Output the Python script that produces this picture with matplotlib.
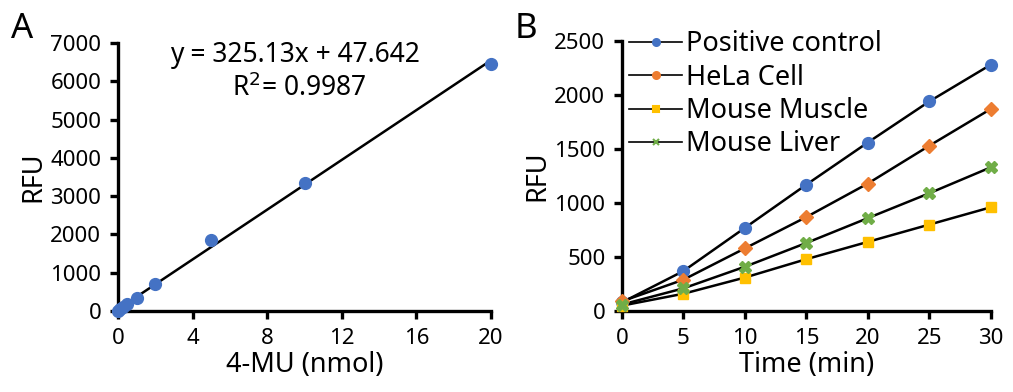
import numpy as np
import matplotlib
matplotlib.use('Agg')
import matplotlib.pyplot as plt
from matplotlib.lines import Line2D

plt.rcParams['font.family'] = ['Noto Sans', 'DejaVu Sans']

# Panel A: 4-MU standard curve
mu_nmol = [0, 0.1, 0.25, 0.5, 1, 2, 5, 10, 20]
mu_rfu = [0, 40, 100, 190, 330, 700, 1850, 3350, 6450]
slope, intercept = 325.13, 47.642

# Panel B: kinetics
time_min = [0, 5, 10, 15, 20, 25, 30]
series = {
    'Positive control': [80, 370, 770, 1170, 1560, 1940, 2280],
    'HeLa Cell': [90, 290, 580, 870, 1180, 1530, 1870],
    'Mouse Muscle': [50, 160, 310, 480, 640, 800, 960],
    'Mouse Liver': [60, 210, 410, 630, 860, 1090, 1330],
}
colors = {'Positive control': '#4472C4', 'HeLa Cell': '#ED7D31',
          'Mouse Muscle': '#FFC000', 'Mouse Liver': '#70AD47'}
markers = {'Positive control': 'o', 'HeLa Cell': 'D',
           'Mouse Muscle': 's', 'Mouse Liver': 'X'}
legend_markers = {'Positive control': 'o', 'HeLa Cell': 'o',
                  'Mouse Muscle': 's', 'Mouse Liver': 'x'}
msizes = {'Positive control': 8.5, 'HeLa Cell': 7, 'Mouse Muscle': 7, 'Mouse Liver': 8}

fig = plt.figure(figsize=(10.13, 3.92), dpi=100)
axA = fig.add_axes([0.1165, 0.2066, 0.3682, 0.6834])
axB = fig.add_axes([0.614, 0.2066, 0.364, 0.6889])

def style(ax):
    for s in ['top', 'right']:
        ax.spines[s].set_visible(False)
    for s in ['left', 'bottom']:
        ax.spines[s].set_linewidth(2.4)
    ax.tick_params(width=2.4, length=6, labelsize=16, direction='out', pad=6)

# A
xs = np.array([0, 20])
axA.plot(xs, slope * xs + intercept, color='black', lw=1.8, zorder=2)
axA.plot(mu_nmol, mu_rfu, 'o', color='#4472C4', ms=8.5, zorder=3, clip_on=False)
axA.set_xlim(0, 20)
axA.set_ylim(0, 7000)
axA.set_xticks([0, 4, 8, 12, 16, 20])
axA.set_yticks(range(0, 7001, 1000))
style(axA)
axA.set_xlabel('4-MU (nmol)', fontsize=19.5, labelpad=2)
axA.set_ylabel('RFU', fontsize=19.5, labelpad=2)
axA.text(0.475, 0.955, 'y = 325.13x + 47.642', transform=axA.transAxes,
         ha='center', va='center', fontsize=19)
axA.text(0.485, 0.83, 'R$^2$= 0.9987', transform=axA.transAxes,
         ha='center', va='center', fontsize=19)

# B
for name, vals in series.items():
    axB.plot(time_min, vals, color='black', lw=1.8, zorder=2)
    axB.plot(time_min, vals, linestyle='none', marker=markers[name],
             color=colors[name], ms=msizes[name], zorder=3, clip_on=False)
axB.set_xlim(0, 30)
axB.set_ylim(0, 2500)
axB.set_xticks(range(0, 31, 5))
axB.set_yticks(range(0, 2501, 500))
style(axB)
axB.set_xlabel('Time (min)', fontsize=19.5, labelpad=2)
axB.set_ylabel('RFU', fontsize=19.5, labelpad=2)

handles = [Line2D([], [], color='black', lw=1.2, marker=legend_markers[n],
                  markerfacecolor=colors[n], markeredgecolor=colors[n],
                  markeredgewidth=1.5, ms=5)
           for n in series]
axB.legend(handles, list(series.keys()), loc='upper left', bbox_to_anchor=(-0.01, 1.08),
           frameon=False, fontsize=19.5, handlelength=1.95, handletextpad=0.15,
           labelspacing=0.2, borderaxespad=0)

fig.text(0.011, 0.925, 'A', fontsize=25, va='center')
fig.text(0.508, 0.925, 'B', fontsize=25, va='center')

fig.savefig('out.png', dpi=100)
